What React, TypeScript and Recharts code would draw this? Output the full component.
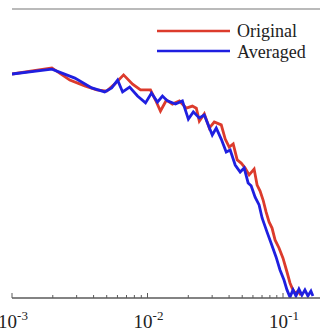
import { LineChart, Line, XAxis, YAxis, ReferenceLine, Legend } from 'recharts';

const seriesNames = ['Original', 'Averaged'];

const originalX = [
  0.001, 0.00197, 0.00267, 0.00344, 0.00422, 0.005, 0.00572, 0.00666, 0.00776, 0.00888,
  0.01052, 0.01145, 0.01246, 0.0138, 0.01527, 0.01719, 0.01936, 0.02143, 0.02293, 0.02412,
  0.02625, 0.02857, 0.0311, 0.03501, 0.03746, 0.04008, 0.0429, 0.04591, 0.04912, 0.05256,
  0.05623, 0.0612, 0.0644, 0.06776, 0.0713, 0.07499, 0.0789, 0.08302, 0.08735, 0.09346,
  0.1, 0.107, 0.1126, 0.1165, 0.1226, 0.1289, 0.1356,
];
const originalY = [
  0.775, 0.796, 0.754, 0.734, 0.72, 0.716, 0.74, 0.772, 0.74, 0.72,
  0.72, 0.685, 0.647, 0.685, 0.671, 0.682, 0.657, 0.664, 0.657, 0.612,
  0.637, 0.588, 0.609, 0.599, 0.55, 0.522, 0.533, 0.478, 0.467, 0.45,
  0.426, 0.446, 0.391, 0.37, 0.339, 0.298, 0.263, 0.242, 0.201, 0.173,
  0.138, 0.09, 0.052, 0.035, 0.017, 0.024, 0.01,
];

const averagedX = [
  0.001, 0.00197, 0.00291, 0.00388, 0.00483, 0.00544, 0.00602, 0.00655, 0.00738, 0.00844,
  0.00967, 0.0107, 0.01184, 0.01289, 0.01403, 0.01607, 0.01809, 0.02002, 0.02179, 0.02412,
  0.02625, 0.03006, 0.03217, 0.03501, 0.0381, 0.04077, 0.04438, 0.04829, 0.05167, 0.05529,
  0.05817, 0.06226, 0.06662, 0.0701, 0.07627, 0.08162, 0.08884, 0.09504, 0.1017, 0.107,
  0.1126, 0.1185, 0.1246, 0.1311, 0.1379, 0.1451, 0.1526, 0.1607, 0.1662,
];
const averagedY = [
  0.775, 0.792, 0.761, 0.727, 0.713, 0.727, 0.754, 0.713, 0.73, 0.699,
  0.675, 0.709, 0.678, 0.699, 0.682, 0.671, 0.682, 0.619, 0.644, 0.623,
  0.633, 0.564, 0.588, 0.55, 0.505, 0.512, 0.46, 0.436, 0.45, 0.398,
  0.388, 0.349, 0.322, 0.277, 0.228, 0.19, 0.142, 0.097, 0.062, 0.028,
  0.003, 0.028, 0.007, 0.031, 0.01, 0.028, 0.007, 0.024, 0.007,
];

const xTicks = [
  0.001, 0.002, 0.003, 0.004, 0.005, 0.006, 0.007, 0.008, 0.009,
  0.01, 0.02, 0.03, 0.04, 0.05, 0.06, 0.07, 0.08, 0.09, 0.1,
];

const originalData = originalX.map((x, i) => ({ x, y: originalY[i] }));
const averagedData = averagedX.map((x, i) => ({ x, y: averagedY[i] }));

const RED = '#dc3b2c';
const BLUE = '#1f1fe0';
const AXIS = '#5a5a5a';
const SERIF = '"Liberation Serif", "DejaVu Serif", serif';

const LogTick = (props: any) => {
  const { x, y, payload } = props;
  const exp = Math.log10(payload.value);
  const major = Math.abs(exp - Math.round(exp)) < 1e-6;
  return (
    <g>
      <line x1={x} y1={y} x2={x} y2={y - (major ? 5 : 3)} stroke={AXIS} strokeWidth={1} />
      {major && (
        <text x={x + 1} y={y + 30} textAnchor="middle" fontFamily={SERIF} fontSize={19} fill="#222">
          <tspan>10</tspan>
          <tspan dy={-8} fontSize={13}>{String(Math.round(exp))}</tspan>
        </text>
      )}
    </g>
  );
};

const renderLegend = (props: any) => {
  const items = [...(props.payload || [])].sort(
    (a: any, b: any) => seriesNames.indexOf(a.value) - seriesNames.indexOf(b.value)
  );
  return (
    <svg width={170} height={50}>
      {items.map((item: any, i: number) => (
        <g key={item.value}>
          <line x1={7} x2={80} y1={13 + i * 20} y2={13 + i * 20} stroke={item.color} strokeWidth={2.5} />
          <text x={87} y={19 + i * 21} fontFamily={SERIF} fontSize={18} fill="#222">
            {item.value}
          </text>
        </g>
      ))}
    </svg>
  );
};

const App = () => {
  return (
    <div style={{ position: 'absolute', left: 0, top: 0, background: '#fff' }}>
      <LineChart width={320} height={332} margin={{ top: 9, right: 0, left: 12, bottom: 0 }}>
        <XAxis
          dataKey="x"
          type="number"
          scale="log"
          domain={[0.001, 0.1875]}
          allowDataOverflow
          ticks={xTicks}
          interval={0}
          tickSize={0}
          tickMargin={0}
          tickLine={false}
          tick={LogTick}
          height={34}
          axisLine={{ stroke: AXIS, strokeWidth: 1.4 }}
        />
        <YAxis
          type="number"
          domain={[0, 1]}
          allowDataOverflow
          width={0}
          tick={false}
          tickLine={false}
          axisLine={{ stroke: AXIS, strokeWidth: 1.4 }}
        />
        <ReferenceLine y={1} stroke="#777" strokeWidth={1.2} />
        <Legend
          layout="horizontal"
          verticalAlign="middle"
          align="center"
          content={renderLegend}
          wrapperStyle={{ left: 150, top: 18, width: 170, height: 50 }}
        />
        <Line
          data={originalData}
          dataKey="y"
          name={seriesNames[0]}
          type="linear"
          stroke={RED}
          strokeWidth={2.8}
          dot={false}
          isAnimationActive={false}
        />
        <Line
          data={averagedData}
          dataKey="y"
          name={seriesNames[1]}
          type="linear"
          stroke={BLUE}
          strokeWidth={2.8}
          dot={false}
          isAnimationActive={false}
        />
      </LineChart>
    </div>
  );
};

export default App;
